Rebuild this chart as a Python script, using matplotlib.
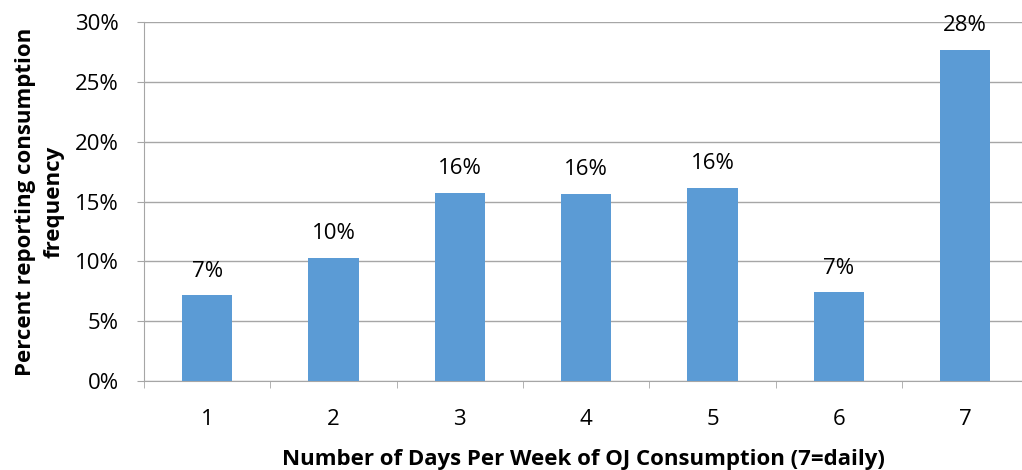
import matplotlib.pyplot as plt
import numpy as np

plt.rcParams.update({
    'font.family': ['Open Sans', 'DejaVu Sans'],
    'font.size': 16,
})

days = ['1', '2', '3', '4', '5', '6', '7']
pct = [7.15, 10.25, 15.7, 15.6, 16.15, 7.4, 27.65]

BAR = '#5B9BD5'
GRID = '#A6A6A6'

fig = plt.figure(figsize=(10.22, 4.70), dpi=100)
ax = fig.add_axes([144 / 1022, 1 - 381 / 470, (1022 - 144) / 1022, (381 - 22) / 470])

x = np.arange(1, len(days) + 1)
bars = ax.bar(x, pct, width=0.4, color=BAR, zorder=3)
for b, v in zip(bars, pct):
    ax.annotate(f'{v:.0f}%', (b.get_x() + b.get_width() / 2, v),
                xytext=(0, 10), textcoords='offset points',
                ha='center', va='bottom', fontsize=16)

ax.set_ylim(0, 30)
ax.set_yticks(range(0, 31, 5))
ax.set_yticklabels([f'{t}%' for t in range(0, 31, 5)])
ax.set_xlim(0.5, 7.45)
ax.set_xticks(x)
ax.set_xticklabels(days)
ax.set_xticks(np.arange(0.5, 7.5, 1), minor=True)
ax.tick_params(axis='x', which='major', length=0, pad=20)
ax.tick_params(axis='x', which='minor', length=5, color=GRID, direction='out')
ax.tick_params(axis='y', length=5, color=GRID, pad=13)

ax.grid(axis='y', color=GRID, linewidth=1, zorder=0)
ax.set_axisbelow(True)
for s in ['top', 'right']:
    ax.spines[s].set_visible(False)
for s in ['left', 'bottom']:
    ax.spines[s].set_color(GRID)

ax.set_xlabel('Number of Days Per Week of OJ Consumption (7=daily)',
              fontweight='bold', fontsize=16, labelpad=14)
ax.set_ylabel('Percent reporting consumption\nfrequency',
              fontweight='bold', fontsize=16, labelpad=8, linespacing=1.45)

fig.savefig('out.png', dpi=100)
